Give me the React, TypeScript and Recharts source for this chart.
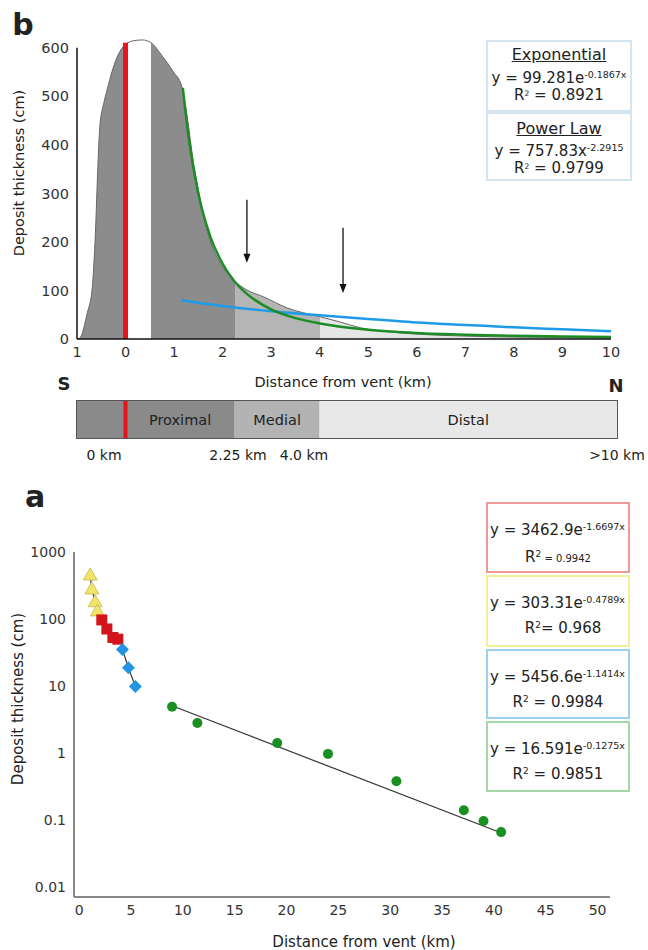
import React from 'react';
import {
  ComposedChart, Area, Line, Scatter, XAxis, YAxis, ReferenceLine, BarChart, Bar, LabelList,
} from 'recharts';

const FONT = '"DejaVu Sans", Verdana, sans-serif';

// ---- panel b: thickness profile, S -> N (km, cm)
const profileKm = [-1, -0.94, -0.79, -0.69, -0.62, -0.57, -0.53, -0.45, -0.38, -0.22, -0.05, 0.15, 0.35, 0.5, 0.77, 0.98, 1.16, 1.27, 1.39, 1.54, 1.74, 1.95, 2.22, 2.5, 2.84, 3.33, 4.0, 4.42, 4.84, 5.5, 6, 7, 8, 9, 10];
const profileCm = [0, 2, 53, 101, 220, 355, 437, 485, 513, 569, 602, 614, 616, 612, 581, 551, 520, 458, 369, 287, 204, 157, 122, 101, 87, 64, 46, 35, 23, 14, 10, 6, 4, 3, 2];

const powerKm = [1.18, 1.3, 1.5, 1.75, 2, 2.25, 2.5, 3, 3.5, 4, 5, 6, 7, 8, 9, 10];
const powerCm = [517, 415, 299, 210, 155, 118, 93, 61, 43, 32, 19, 12.5, 8.8, 6.5, 4.9, 3.9];

const expKm = [1.15, 2, 3, 4, 5, 6, 7, 8, 9, 10];
const expCm = [80, 68, 57, 49, 41, 34, 29, 24, 20, 16];

const bTicksX = [-1, 0, 1, 2, 3, 4, 5, 6, 7, 8, 9, 10];
const bTicksY = [0, 100, 200, 300, 400, 500, 600];

const bandEdges = [-1, 0.05, 0.52, 2.25, 4.0, 10];
const bandColors = ['#8c8c8c', '#ffffff', '#8c8c8c', '#b5b5b5', '#e6e6e6'];

const arrowKm = [2.5, 4.48];
const arrowTop = [287, 229];
const arrowTip = [157, 95];

// ---- zone bar
const zoneNames = ['', 'Proximal', 'Medial', 'Distal'];
const zoneEdges = [-1, 0, 2.25, 4.0, 10.13];
const zoneColors = ['#8a8a8a', '#8a8a8a', '#b3b3b3', '#e8e8e8'];
const zoneTickText = ['0 km', '2.25 km', '4.0 km', '>10 km'];
const zoneTickPx = [104, 238, 304, 617];

// ---- panel a: log plot (km, cm)
const yellowX = [1.06, 1.22, 1.54, 1.76];
const yellowY = [454, 281, 181, 132];
const redX = [2.18, 2.67, 3.25, 3.73];
const redY = [97, 71, 53, 50];
const blueX = [4.17, 4.75, 5.42];
const blueY = [35, 18.8, 9.8];
const greenX = [8.96, 11.4, 19.1, 24.0, 30.6, 37.1, 39.0, 40.7];
const greenY = [4.9, 2.8, 1.41, 0.97, 0.38, 0.14, 0.097, 0.066];
const greenFitX = [9.2, 40.3];
const greenFitY = [4.9, 0.068];

const aTicksX = [0, 5, 10, 15, 20, 25, 30, 35, 40, 45, 50];
const aTicksY = [0.01, 0.1, 1, 10, 100, 1000];

const rows = (xs: number[], ys: number[], xk: string, yk: string) =>
  xs.map((x, i) => ({ [xk]: x, [yk]: ys[i] }));

const Label = ({ x, y, size = 14.5, weight = 400, rotate = false, children }: any) => (
  <div
    style={{
      position: 'absolute', left: x, top: y, fontSize: size, fontWeight: weight, fontFamily: FONT,
      color: '#222', whiteSpace: 'nowrap', lineHeight: 1,
      transform: `translate(-50%, -50%)${rotate ? ' rotate(-90deg)' : ''}`,
    }}
  >
    {children}
  </div>
);

const Sup = ({ size = 9.5, top = -5, children }: any) => (
  <span style={{ fontSize: size, position: 'relative', top, lineHeight: 0 }}>{children}</span>
);

const Box = ({ left, top, width, height, color, children }: any) => (
  <div
    style={{
      position: 'absolute', left, top, width, height, boxSizing: 'border-box',
      border: `2px solid ${color}`, fontFamily: FONT, color: '#222', background: '#fff',
    }}
  >
    {children}
  </div>
);

const ArrowShape = (p: any) => (
  <g>
    <line x1={p.x1} y1={p.y1} x2={p.x2} y2={p.y2 - 6} stroke="#111" strokeWidth={1.3} />
    <polygon points={`${p.x2 - 3.5},${p.y2 - 9} ${p.x2 + 3.5},${p.y2 - 9} ${p.x2},${p.y2}`} fill="#111" />
  </g>
);

const tri = (p: any) => (
  <polygon points={`${p.cx},${p.cy - 7} ${p.cx + 7},${p.cy + 5} ${p.cx - 7},${p.cy + 5}`} fill="#f2e46a" stroke="#c9b640" strokeWidth={0.8} />
);
const sq = (p: any) => <rect x={p.cx - 5.5} y={p.cy - 5.5} width={11} height={11} fill="#d3141c" />;
const dia = (p: any) => (
  <polygon points={`${p.cx},${p.cy - 6.5} ${p.cx + 6.5},${p.cy} ${p.cx},${p.cy + 6.5} ${p.cx - 6.5},${p.cy}`} fill="#2394e2" />
);
const circ = (p: any) => <circle cx={p.cx} cy={p.cy} r={5} fill="#1a8f22" />;

export default function App() {
  const profile = rows(profileKm, profileCm, 'km', 'cm');
  const power = rows(powerKm, powerCm, 'km', 'cm');
  const expo = rows(expKm, expCm, 'km', 'cm');
  const span = bandEdges[bandEdges.length - 1] - bandEdges[0];

  const zoneRow: any = { name: 'zones' };
  zoneNames.forEach((_, i) => { zoneRow['z' + i] = zoneEdges[i + 1] - zoneEdges[i]; });
  const zoneSpan = zoneEdges[zoneEdges.length - 1] - zoneEdges[0];

  const bTick = { fill: '#333', fontSize: 14.5, fontFamily: FONT };
  const aTick = { fill: '#333', fontSize: 14, fontFamily: FONT };

  return (
    <div style={{ position: 'absolute', left: 0, top: 0, width: 648, height: 950, background: '#fff', overflow: 'hidden' }}>
      {/* panel b */}
      <div style={{ position: 'absolute', left: 0, top: 0 }}>
        <ComposedChart width={648} height={390} margin={{ top: 38, right: 37, bottom: 21, left: 17 }}>
          <defs>
            <linearGradient id="zoneFill" x1="0" y1="0" x2="1" y2="0">
              {bandColors.map((c, i) => [
                <stop key={'a' + i} offset={(bandEdges[i] - bandEdges[0]) / span} stopColor={c} />,
                <stop key={'b' + i} offset={(bandEdges[i + 1] - bandEdges[0]) / span} stopColor={c} />,
              ])}
            </linearGradient>
          </defs>
          <XAxis
            type="number" dataKey="km" domain={[-1, 10]} ticks={bTicksX} interval={0}
            tickFormatter={(v: number) => String(Math.abs(v))}
            axisLine={{ stroke: '#111', strokeWidth: 1.5 }} tickLine={false} height={30} tick={bTick}
          />
          <YAxis type="number" domain={[0, 620]} ticks={bTicksY} interval={0} width={60} axisLine={false} tickLine={false} tick={bTick} />
          <Area data={profile} dataKey="cm" type="monotone" fill="url(#zoneFill)" fillOpacity={1} stroke="#666" strokeWidth={1} isAnimationActive={false} />
          <ReferenceLine segment={[{ x: -1, y: 0 }, { x: -1, y: 600 }]} stroke="#111" strokeWidth={1.5} />
          <ReferenceLine segment={[{ x: 0, y: 0 }, { x: 0, y: 610 }]} stroke="#e3141b" strokeWidth={5} />
          <Line data={expo} dataKey="cm" type="monotone" stroke="#1e9be8" strokeWidth={2.5} dot={false} isAnimationActive={false} />
          <Line data={power} dataKey="cm" type="monotone" stroke="#1c8c24" strokeWidth={2.5} dot={false} isAnimationActive={false} />
          {arrowKm.map((k, i) => (
            <ReferenceLine key={i} segment={[{ x: k, y: arrowTop[i] }, { x: k, y: arrowTip[i] }]} shape={ArrowShape} />
          ))}
        </ComposedChart>
      </div>

      <Label x={23} y={25} size={30} weight={700}>b</Label>
      <Label x={19} y={173} rotate>Deposit thickness (cm)</Label>
      <Label x={343} y={382}>Distance from vent (km)</Label>

      <Box left={486} top={40} width={146} height={72} color="#d3e6ef">
        <div style={{ textAlign: 'center', fontSize: 16, textDecoration: 'underline', lineHeight: '20px', marginTop: 3 }}>Exponential</div>
        <div style={{ textAlign: 'center', fontSize: 15, lineHeight: '16px', marginTop: 5 }}>y = 99.281e<Sup>-0.1867x</Sup></div>
        <div style={{ textAlign: 'center', fontSize: 15, lineHeight: '16px', marginTop: 1 }}>R<Sup size={7.5} top={-4}>2</Sup> = 0.8921</div>
      </Box>
      <Box left={486} top={112} width={146} height={69} color="#d3e6ef">
        <div style={{ textAlign: 'center', fontSize: 16, textDecoration: 'underline', lineHeight: '20px', marginTop: 5 }}>Power Law</div>
        <div style={{ textAlign: 'center', fontSize: 15, lineHeight: '16px', marginTop: 4 }}>y = 757.83x<Sup>-2.2915</Sup></div>
        <div style={{ textAlign: 'center', fontSize: 15, lineHeight: '14px', marginTop: 2 }}>R<Sup size={7.5} top={-4}>2</Sup> = 0.9799</div>
      </Box>

      {/* zone bar */}
      <Label x={64} y={384} size={18} weight={700}>S</Label>
      <Label x={616} y={386} size={18} weight={700}>N</Label>
      <div style={{ position: 'absolute', left: 77, top: 401, width: 540, height: 37, outline: '1.5px solid #555' }}>
        <BarChart width={540} height={37} layout="vertical" data={[zoneRow]} margin={{ top: 0, right: 0, bottom: 0, left: 0 }} barCategoryGap={0}>
          <XAxis type="number" hide domain={[0, zoneSpan]} />
          <YAxis type="category" dataKey="name" hide />
          {zoneNames.map((n, i) => (
            <Bar key={i} dataKey={'z' + i} stackId="z" fill={zoneColors[i]} isAnimationActive={false}>
              {n ? (
                <LabelList position="center" formatter={() => n} fill="#222" fontSize={14.5} fontFamily={FONT} />
              ) : null}
            </Bar>
          ))}
          <ReferenceLine x={0 - zoneEdges[0]} stroke="#e3141b" strokeWidth={4} />
        </BarChart>
      </div>
      {zoneTickText.map((t, i) => (
        <Label key={t} x={zoneTickPx[i]} y={455} size={14}>{t}</Label>
      ))}

      {/* panel a */}
      <div style={{ position: 'absolute', left: 0, top: 480 }}>
        <ComposedChart width={648} height={470} margin={{ top: 72, right: 38, bottom: 23, left: 14 }}>
          <XAxis
            type="number" dataKey="x" domain={[-0.5, 51.2]} ticks={aTicksX} interval={0}
            axisLine={{ stroke: '#888', strokeWidth: 2 }} tickLine={false} height={30} tick={aTick}
          />
          <YAxis
            type="number" dataKey="y" scale="log" domain={[0.0071, 1000]} ticks={aTicksY} interval={0}
            allowDataOverflow width={60} axisLine={{ stroke: '#888', strokeWidth: 2 }} tickLine={false} tick={aTick}
            tickFormatter={(v: number) => String(v)}
          />
          <Line data={rows(yellowX, yellowY, 'x', 'y')} dataKey="y" stroke="#333" strokeWidth={1.2} dot={false} isAnimationActive={false} />
          <Line data={rows(blueX, blueY, 'x', 'y')} dataKey="y" stroke="#333" strokeWidth={1.2} dot={false} isAnimationActive={false} />
          <Line data={rows(greenFitX, greenFitY, 'x', 'y')} dataKey="y" stroke="#333" strokeWidth={1.2} dot={false} isAnimationActive={false} />
          <Scatter data={rows(yellowX, yellowY, 'x', 'y')} dataKey="y" shape={tri} isAnimationActive={false} />
          <Scatter data={rows(redX, redY, 'x', 'y')} dataKey="y" shape={sq} isAnimationActive={false} />
          <Scatter data={rows(blueX, blueY, 'x', 'y')} dataKey="y" shape={dia} isAnimationActive={false} />
          <Scatter data={rows(greenX, greenY, 'x', 'y')} dataKey="y" shape={circ} isAnimationActive={false} />
        </ComposedChart>
      </div>

      <Label x={35} y={497} size={30} weight={700}>a</Label>
      <Label x={18} y={699} size={15} rotate>Deposit thickness (cm)</Label>
      <Label x={364} y={942} size={15}>Distance from vent (km)</Label>

      <Box left={486} top={502} width={144} height={71} color="#ee9a9a">
        <div style={{ fontSize: 15, lineHeight: '16px', marginTop: 18, paddingLeft: 2 }}>y = 3462.9e<Sup>-1.6697x</Sup></div>
        <div style={{ textAlign: 'center', fontSize: 15, lineHeight: '16px', marginTop: 11 }}>R<Sup size={9}>2</Sup><span style={{ fontSize: 10 }}> = 0.9942</span></div>
      </Box>
      <Box left={486} top={575} width={144} height={72} color="#f4ef9a">
        <div style={{ fontSize: 15, lineHeight: '16px', marginTop: 18, paddingLeft: 2 }}>y = 303.31e<Sup>-0.4789x</Sup></div>
        <div style={{ textAlign: 'center', fontSize: 15, lineHeight: '16px', marginTop: 9, paddingLeft: 10 }}>R<Sup size={9}>2</Sup>= 0.968</div>
      </Box>
      <Box left={486} top={649} width={144} height={70} color="#9fd0f2">
        <div style={{ fontSize: 15, lineHeight: '16px', marginTop: 18, paddingLeft: 2 }}>y = 5456.6e<Sup>-1.1414x</Sup></div>
        <div style={{ textAlign: 'center', fontSize: 15, lineHeight: '16px', marginTop: 9 }}>R<Sup size={9}>2</Sup> = 0.9984</div>
      </Box>
      <Box left={486} top={721} width={144} height={71} color="#a5d6a5">
        <div style={{ fontSize: 15, lineHeight: '16px', marginTop: 18, paddingLeft: 2 }}>y = 16.591e<Sup>-0.1275x</Sup></div>
        <div style={{ textAlign: 'center', fontSize: 15, lineHeight: '16px', marginTop: 9 }}>R<Sup size={9}>2</Sup> = 0.9851</div>
      </Box>
    </div>
  );
}
